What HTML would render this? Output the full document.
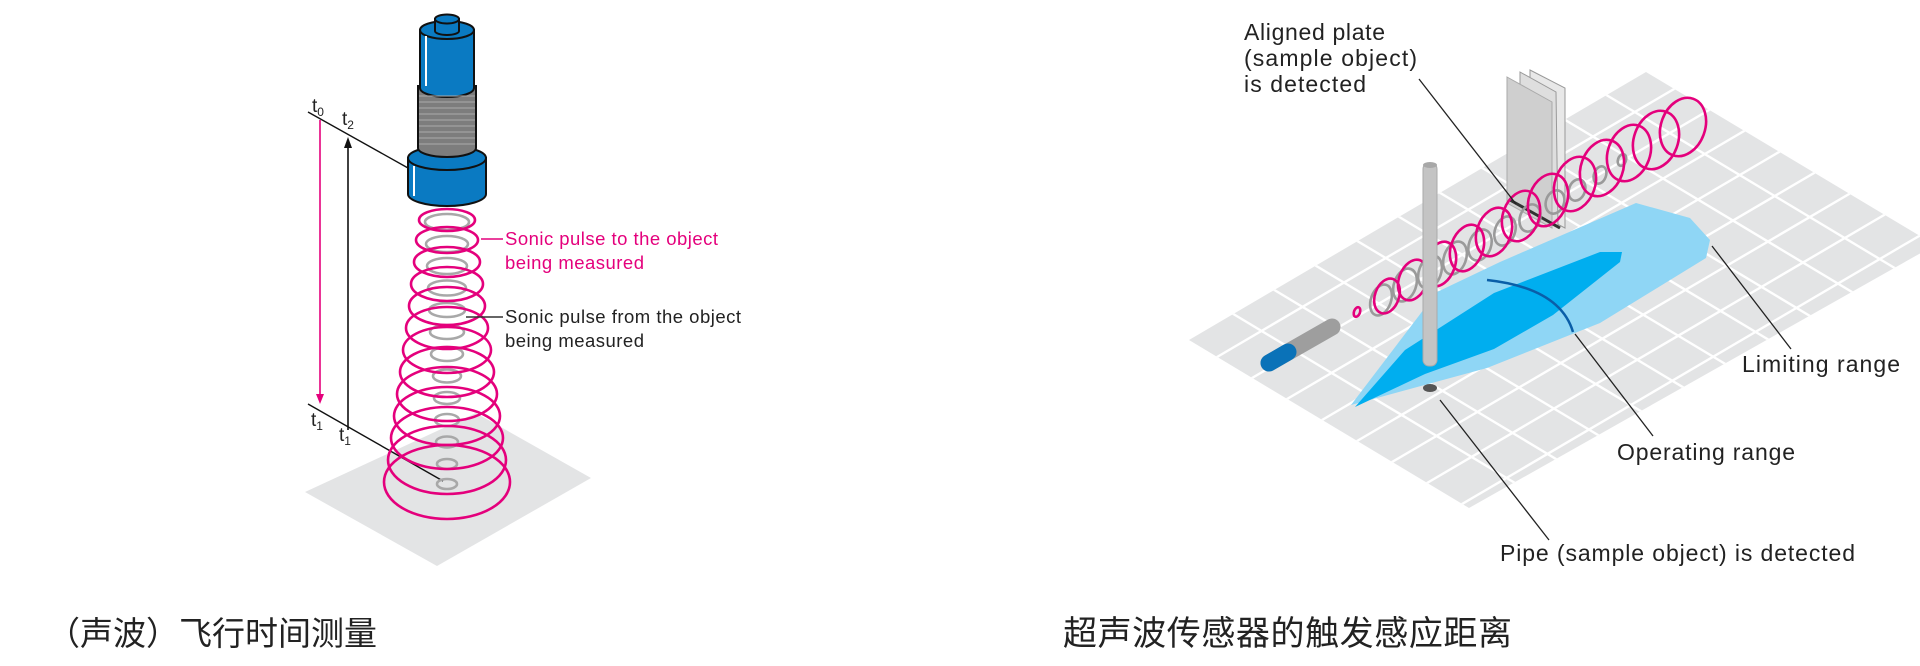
<!DOCTYPE html>
<html><head><meta charset="utf-8"><style>
html,body{margin:0;padding:0;background:#fff;}
svg{display:block;}
text{font-family:"Liberation Sans","Noto Sans CJK SC",sans-serif;}
</style></head><body>
<svg width="1920" height="666" viewBox="0 0 1920 666" xmlns="http://www.w3.org/2000/svg">
<defs>
<clipPath id="fl"><polygon points="1189,340 1646,72 1935,245 1469,508"/></clipPath>
</defs>
<!-- LEFT -->
<polygon points="305,492 476,413 591,478 437,566" fill="#e3e4e5"/>
<line x1="308" y1="112" x2="408" y2="168" stroke="#111" stroke-width="1.4"/>
<line x1="308" y1="404" x2="443" y2="481" stroke="#111" stroke-width="1.4"/>
<line x1="320" y1="120" x2="320" y2="396" stroke="#e4007c" stroke-width="1.6"/>
<polygon points="316,394 324,394 320,404" fill="#e4007c"/>
<line x1="348" y1="146" x2="348" y2="430" stroke="#111" stroke-width="1.6"/>
<polygon points="344,148 352,148 348,137" fill="#111"/>
<text x="312" y="112" font-size="19" fill="#222">t<tspan font-size="12" dy="4">0</tspan></text>
<text x="342" y="125" font-size="19" fill="#222">t<tspan font-size="12" dy="4">2</tspan></text>
<text x="311" y="426" font-size="19" fill="#222">t<tspan font-size="12" dy="4">1</tspan></text>
<text x="339" y="441" font-size="19" fill="#222">t<tspan font-size="12" dy="4">1</tspan></text>
<g fill="none" stroke-width="2.6">
<g stroke="#a8a8a8">
<ellipse cx="447" cy="222" rx="22" ry="8"/><ellipse cx="447" cy="244" rx="21" ry="8"/><ellipse cx="447" cy="266" rx="20" ry="8"/><ellipse cx="447" cy="288" rx="19" ry="7.5"/><ellipse cx="447" cy="310" rx="18" ry="7"/><ellipse cx="447" cy="332" rx="17" ry="7"/><ellipse cx="447" cy="354" rx="16" ry="7"/><ellipse cx="447" cy="376" rx="14" ry="6.5"/><ellipse cx="447" cy="398" rx="13" ry="6"/><ellipse cx="447" cy="420" rx="12" ry="6"/><ellipse cx="447" cy="442" rx="11" ry="5.5"/><ellipse cx="447" cy="464" rx="10" ry="5"/><ellipse cx="447" cy="484" rx="10" ry="5"/>
</g>
<g stroke="#e4007c">
<ellipse cx="447" cy="220" rx="28" ry="11"/><ellipse cx="447" cy="240" rx="31" ry="13"/><ellipse cx="447" cy="262" rx="33" ry="15"/><ellipse cx="447" cy="284" rx="36" ry="17"/><ellipse cx="447" cy="306" rx="38" ry="19"/><ellipse cx="447" cy="328" rx="41" ry="21"/><ellipse cx="447" cy="350" rx="44" ry="23"/><ellipse cx="447" cy="372" rx="47" ry="25"/><ellipse cx="447" cy="394" rx="50" ry="27"/><ellipse cx="447" cy="416" rx="53" ry="29"/><ellipse cx="447" cy="438" rx="56" ry="31"/><ellipse cx="447" cy="460" rx="59" ry="34"/><ellipse cx="447" cy="482" rx="63" ry="37"/>
</g>
</g>
<g stroke="#111" stroke-width="2">
<path d="M408,158 L408,194 A39,12 0 0 0 486,194 L486,158 Z" fill="#0a7ac2"/>
<ellipse cx="447" cy="158" rx="39" ry="12" fill="#0a7ac2"/>
<path d="M418,86 L418,148 A29,9 0 0 0 476,148 L476,86 Z" fill="#7d7d7d"/>
<path d="M420,30 L420,88 A27,9 0 0 0 474,88 L474,30 Z" fill="#0a7ac2"/>
<ellipse cx="447" cy="30" rx="27" ry="9" fill="#0a7ac2"/>
<path d="M435,19 L435,31 A12,4 0 0 0 459,31 L459,19 Z" fill="#0a7ac2"/>
<ellipse cx="447" cy="19" rx="12" ry="4.5" fill="#0a7ac2"/>
</g>
<g stroke="#aaa" stroke-width="1">
<line x1="419" y1="96" x2="475" y2="96"/><line x1="419" y1="102" x2="475" y2="102"/><line x1="419" y1="108" x2="475" y2="108"/><line x1="419" y1="114" x2="475" y2="114"/><line x1="419" y1="120" x2="475" y2="120"/><line x1="419" y1="126" x2="475" y2="126"/><line x1="419" y1="132" x2="475" y2="132"/><line x1="419" y1="138" x2="475" y2="138"/><line x1="419" y1="144" x2="475" y2="144"/>
</g>
<line x1="426" y1="36" x2="426" y2="86" stroke="#fff" stroke-width="2"/>
<line x1="414" y1="166" x2="414" y2="196" stroke="#fff" stroke-width="2"/>
<line x1="481" y1="239" x2="503" y2="239" stroke="#e4007c" stroke-width="1.4"/>
<text x="505" y="245" font-size="18.5" fill="#e4007c" textLength="213">Sonic pulse to the object</text>
<text x="505" y="269" font-size="18.5" fill="#e4007c" textLength="139">being measured</text>
<line x1="466" y1="317" x2="503" y2="317" stroke="#333" stroke-width="1.4"/>
<text x="505" y="323" font-size="18.5" fill="#222" textLength="236">Sonic pulse from the object</text>
<text x="505" y="347" font-size="18.5" fill="#222" textLength="139">being measured</text>
<text x="47" y="645" font-size="33" fill="#222">（声波）飞行时间测量</text>

<!-- RIGHT floor -->
<polygon points="1189,340 1646,72 1935,245 1469,508" fill="#e3e4e5"/>
<g clip-path="url(#fl)" stroke="#fff" stroke-width="2.4">
<line x1="1200" y1="367" x2="1715" y2="65"/>
<line x1="1235" y1="388" x2="1750" y2="86"/>
<line x1="1270" y1="409" x2="1785" y2="107"/>
<line x1="1305" y1="430" x2="1820" y2="128"/>
<line x1="1340" y1="451" x2="1855" y2="149"/>
<line x1="1375" y1="472" x2="1890" y2="170"/>
<line x1="1410" y1="493" x2="1925" y2="191"/>
<line x1="1445" y1="514" x2="1960" y2="212"/>
<line x1="1210" y1="300" x2="1530" y2="492"/>
<line x1="1251" y1="276" x2="1571" y2="468"/>
<line x1="1293" y1="252" x2="1613" y2="444"/>
<line x1="1334" y1="227" x2="1654" y2="419"/>
<line x1="1376" y1="203" x2="1696" y2="395"/>
<line x1="1417" y1="179" x2="1737" y2="371"/>
<line x1="1459" y1="154" x2="1779" y2="346"/>
<line x1="1500" y1="130" x2="1820" y2="322"/>
<line x1="1542" y1="106" x2="1862" y2="298"/>
<line x1="1583" y1="81" x2="1903" y2="273"/>
<line x1="1625" y1="57" x2="1945" y2="249"/>
</g>
<path d="M1351,405 L1437,292 L1500,262 L1636,203 L1690,218 L1710,240 L1706,258 L1600,323 L1487,368 Z" fill="#8fd6f5"/>
<path d="M1355,407 L1405,350 L1494,293 L1600,252 L1622,252 L1620,262 L1553,315 L1494,349 L1425,374 Z" fill="#00aeef"/>
<path d="M1487,280 Q1560,288 1573,332" fill="none" stroke="#0a5ea8" stroke-width="2.5"/>
<polygon points="1530,70 1565,88 1565,228 1530,210" fill="#e8e8e8" stroke="#999" stroke-width="1"/>
<polygon points="1520,72 1556,92 1558,228 1520,208" fill="#dedede" stroke="#999" stroke-width="1"/>
<polygon points="1507,77 1552,102 1552,228 1507,203" fill="#cfcfcf" stroke="#aaa" stroke-width="1"/>
<line x1="1510" y1="200" x2="1560" y2="228" stroke="#333" stroke-width="3"/>
<line x1="1269" y1="363" x2="1332" y2="327" stroke="#9e9e9e" stroke-width="17" stroke-linecap="round"/>
<line x1="1269" y1="363" x2="1288" y2="352" stroke="#0a72b8" stroke-width="17" stroke-linecap="round"/>
<g fill="none" stroke-width="2.6">
<g stroke="#9a9a9a">
<ellipse cx="1381" cy="300" rx="10" ry="16" transform="rotate(20 1381 300)"/>
<ellipse cx="1405" cy="285" rx="11" ry="17" transform="rotate(20 1405 285)"/>
<ellipse cx="1430" cy="272" rx="11" ry="17" transform="rotate(20 1430 272)"/>
<ellipse cx="1455" cy="258" rx="11" ry="17" transform="rotate(20 1455 258)"/>
<ellipse cx="1480" cy="245" rx="11" ry="16" transform="rotate(20 1480 245)"/>
<ellipse cx="1505" cy="231" rx="10" ry="15" transform="rotate(20 1505 231)"/>
<ellipse cx="1530" cy="218" rx="10" ry="14" transform="rotate(20 1530 218)"/>
<ellipse cx="1555" cy="202" rx="9" ry="12" transform="rotate(20 1555 202)"/>
<ellipse cx="1577" cy="190" rx="8" ry="11" transform="rotate(20 1577 190)"/>
<ellipse cx="1600" cy="175" rx="6" ry="9" transform="rotate(20 1600 175)"/>
<ellipse cx="1622" cy="160" rx="4" ry="6" transform="rotate(20 1622 160)"/>
</g>
<g stroke="#e4007c">
<ellipse cx="1357" cy="312" rx="3" ry="5" transform="rotate(20 1357 312)"/>
<ellipse cx="1387" cy="296" rx="12" ry="18" transform="rotate(20 1387 296)"/>
<ellipse cx="1413" cy="280" rx="14" ry="21" transform="rotate(20 1413 280)"/>
<ellipse cx="1440" cy="264" rx="15" ry="23" transform="rotate(20 1440 264)"/>
<ellipse cx="1467" cy="248" rx="16" ry="24" transform="rotate(20 1467 248)"/>
<ellipse cx="1494" cy="232" rx="17" ry="25" transform="rotate(20 1494 232)"/>
<ellipse cx="1521" cy="216" rx="18" ry="26" transform="rotate(20 1521 216)"/>
<ellipse cx="1548" cy="200" rx="19" ry="27" transform="rotate(20 1548 200)"/>
<ellipse cx="1575" cy="184" rx="20" ry="28" transform="rotate(20 1575 184)"/>
<ellipse cx="1602" cy="168" rx="21" ry="29" transform="rotate(20 1602 168)"/>
<ellipse cx="1629" cy="153" rx="21" ry="29" transform="rotate(20 1629 153)"/>
<ellipse cx="1656" cy="140" rx="22" ry="30" transform="rotate(20 1656 140)"/>
<ellipse cx="1683" cy="127" rx="22" ry="30" transform="rotate(20 1683 127)"/>
</g>
</g>
<rect x="1423" y="163" width="14" height="203" rx="6" fill="#c4c4c4" stroke="#aaa" stroke-width="1"/>
<ellipse cx="1430" cy="165" rx="7" ry="3" fill="#a8a8a8"/>
<ellipse cx="1430" cy="388" rx="7" ry="4" fill="#555"/>
<g stroke="#222" stroke-width="1.3">
<line x1="1419" y1="79" x2="1516" y2="204"/>
<line x1="1712" y1="246" x2="1791" y2="349"/>
<line x1="1575" y1="334" x2="1653" y2="436"/>
<line x1="1440" y1="400" x2="1549" y2="540"/>
</g>
<g font-size="23" fill="#222">
<text x="1244" y="40" textLength="141">Aligned plate</text>
<text x="1244" y="66" textLength="173">(sample object)</text>
<text x="1244" y="92" textLength="122">is detected</text>
<text x="1742" y="372" textLength="158">Limiting range</text>
<text x="1617" y="460" textLength="178">Operating range</text>
<text x="1500" y="561" textLength="355">Pipe (sample object) is detected</text>
</g>
<text x="1063" y="645" font-size="34" fill="#222" textLength="449">超声波传感器的触发感应距离</text>
</svg>
</body></html>
